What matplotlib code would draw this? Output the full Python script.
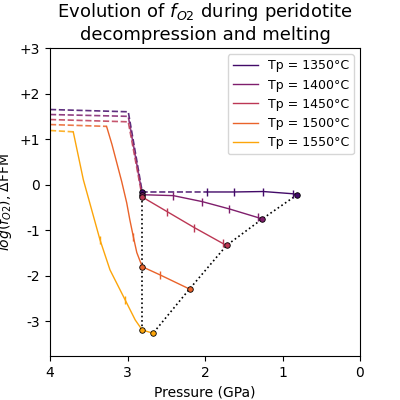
import matplotlib
matplotlib.use("Agg")
import matplotlib.pyplot as plt
import numpy as np

# Data
tp_labels = ['Tp = 1350°C', 'Tp = 1400°C', 'Tp = 1450°C', 'Tp = 1500°C', 'Tp = 1550°C']

# sub-solidus (dashed) paths
solid_P = [[4.0, 2.99, 2.81, 1.97],
           [4.0, 2.99, 2.81],
           [4.0, 2.99, 2.81],
           [4.0, 3.27],
           [4.0, 3.70]]
solid_f = [[1.65, 1.60, -0.16, -0.16],
           [1.54, 1.50, -0.22],
           [1.43, 1.38, -0.27],
           [1.32, 1.28],
           [1.19, 1.16]]

# melting (solid) paths
melt_P = [[1.97, 1.63, 1.25, 0.86, 0.81],
          [2.81, 2.41, 2.04, 1.69, 1.32, 1.26],
          [2.81, 2.49, 2.14, 1.77, 1.72],
          [3.27, 3.20, 3.075, 3.01, 2.97, 2.925, 2.88, 2.81, 2.58, 2.20],
          [3.70, 3.57, 3.355, 3.226, 3.03, 2.90, 2.81, 2.67]]
melt_f = [[-0.16, -0.16, -0.15, -0.20, -0.22],
          [-0.22, -0.24, -0.37, -0.53, -0.72, -0.75],
          [-0.27, -0.59, -0.94, -1.29, -1.33],
          [1.28, 0.88, 0.07, -0.40, -0.77, -1.14, -1.49, -1.80, -1.98, -2.29],
          [1.16, 0.11, -1.21, -1.87, -2.53, -2.97, -3.19, -3.26]]
tick_idx = [[0, 1, 2, 3], [1, 2, 3, 4], [1, 2, 3], [5, 8], [2, 4]]

# solidus onset and end-of-melting points
onset_P = [2.81, 2.81, 2.81, 2.81, 2.81]
onset_f = [-0.16, -0.22, -0.27, -1.80, -3.19]
end_P = [0.81, 1.26, 1.72, 2.20, 2.67]
end_f = [-0.22, -0.75, -1.33, -2.29, -3.26]

colors = plt.cm.inferno(np.linspace(0.2, 0.8, 5))

fig, ax = plt.subplots(figsize=(4, 4), dpi=100)

ax.plot([onset_P[0], onset_P[-1]], [onset_f[0], onset_f[-1]], 'k:', lw=1.2, zorder=1)
ax.plot(end_P, end_f, 'k:', lw=1.2, zorder=1)

for i in range(5):
    ax.plot(solid_P[i], solid_f[i], '--', color=colors[i], lw=1.2, alpha=0.85)
    ax.plot(melt_P[i], melt_f[i], '-', color=colors[i], lw=1.0, label=tp_labels[i],
            marker='|', markersize=6, markevery=tick_idx[i])
    ax.plot(onset_P[i], onset_f[i], 'o', color=colors[i], mec='k', mew=0.6, ms=4, zorder=3)
    ax.plot(end_P[i], end_f[i], 'o', color=colors[i], mec='k', mew=0.6, ms=4, zorder=3)

ax.set_xlim(4, 0)
ax.set_ylim(-3.76, 3)
ax.set_xticks([4, 3, 2, 1, 0])
ax.set_yticks([3, 2, 1, 0, -1, -2, -3])
ax.set_yticklabels(['+3', '+2', '+1', '0', '-1', '-2', '-3'])
ax.set_xlabel('Pressure (GPa)')
ax.set_ylabel('$log(f_{O2})$, ΔFFM')
ax.set_title('Evolution of $f_{O2}$ during peridotite\ndecompression and melting', fontsize=13)

handles = [plt.Line2D([], [], color=c, lw=1.0) for c in colors]
ax.legend(handles, tp_labels, loc='upper right', fontsize=9)

fig.savefig('out.png')
